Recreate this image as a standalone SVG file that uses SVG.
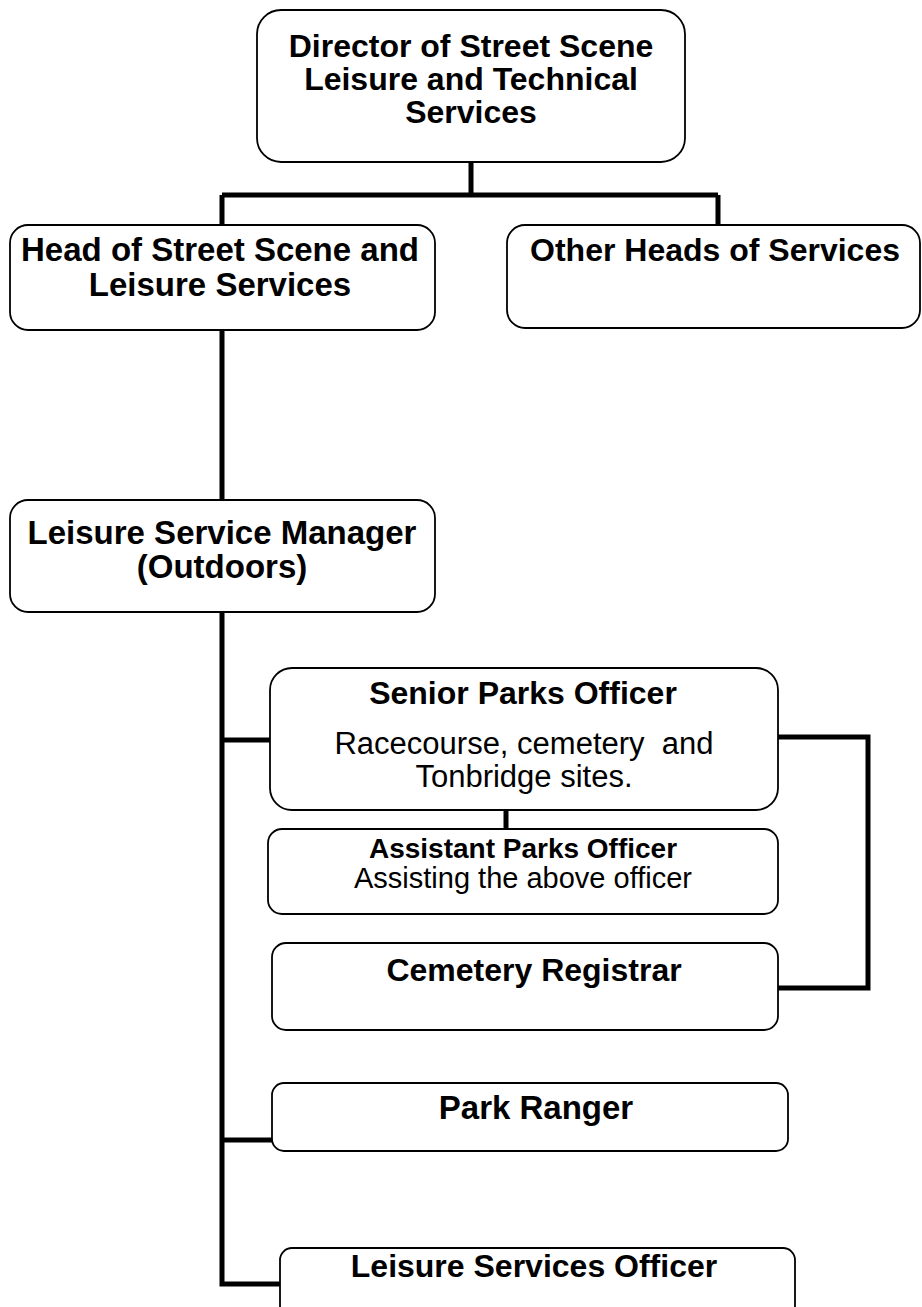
<svg xmlns="http://www.w3.org/2000/svg" width="922" height="1307" viewBox="0 0 922 1307">
<style>
.box{fill:#fff;stroke:#000;stroke-width:1.8}
.t{font-family:"Liberation Sans",Arial,sans-serif;font-weight:bold;text-anchor:middle;fill:#000}
.r{font-family:"Liberation Sans",Arial,sans-serif;text-anchor:middle;fill:#000}
.c{fill:none;stroke:#000;stroke-width:5;stroke-linejoin:miter}
</style>
<rect width="922" height="1307" fill="#fff"/>
<g id="connectors">
<path class="c" d="M471 162V195M222 195H718M222 195V225M718 195V225"/>
<path class="c" d="M222 330V500"/>
<path class="c" d="M222 612V1284H280"/>
<path class="c" d="M222 740H270"/>
<path class="c" d="M222 1140H272"/>
<path class="c" d="M506 810V829"/>
<path class="c" d="M778 737H868V988H778"/>
</g>
<g id="director">
<rect class="box" x="257" y="10" width="428" height="152" rx="24"/>
<text class="t" font-size="32" x="471" y="57">Director of Street Scene</text>
<text class="t" font-size="32" x="471" y="90">Leisure and Technical</text>
<text class="t" font-size="32" x="471" y="123">Services</text>
</g>
<g id="head">
<rect class="box" x="10" y="225" width="425" height="105" rx="18"/>
<text class="t" font-size="33" x="220" y="261">Head of Street Scene and</text>
<text class="t" font-size="33" x="220" y="296">Leisure Services</text>
</g>
<g id="other">
<rect class="box" x="507" y="225" width="413" height="103" rx="18"/>
<text class="t" font-size="32" x="715" y="261">Other Heads of Services</text>
</g>
<g id="manager">
<rect class="box" x="10" y="500" width="425" height="112" rx="18"/>
<text class="t" font-size="33" x="222" y="544">Leisure Service Manager</text>
<text class="t" font-size="33" x="222" y="578">(Outdoors)</text>
</g>
<g id="senior">
<rect class="box" x="270" y="668" width="508" height="142" rx="22"/>
<text class="t" font-size="32" x="523" y="704">Senior Parks Officer</text>
<text class="r" font-size="31" x="524" y="754" xml:space="preserve">Racecourse, cemetery  and</text>
<text class="r" font-size="31" x="524" y="787">Tonbridge sites.</text>
</g>
<g id="assistant">
<rect class="box" x="268" y="829" width="510" height="85" rx="14"/>
<text class="t" font-size="28" x="523" y="858">Assistant Parks Officer</text>
<text class="r" font-size="29" x="523" y="888">Assisting the above officer</text>
</g>
<g id="registrar">
<rect class="box" x="272" y="943" width="506" height="87" rx="14"/>
<text class="t" font-size="32" x="534" y="981">Cemetery Registrar</text>
</g>
<g id="ranger">
<rect class="box" x="272" y="1083" width="516" height="68" rx="12"/>
<text class="t" font-size="33" x="536" y="1119">Park Ranger</text>
</g>
<g id="lso">
<rect class="box" x="280" y="1248" width="515" height="70" rx="12"/>
<text class="t" font-size="32" x="534" y="1277">Leisure Services Officer</text>
</g>
</svg>
